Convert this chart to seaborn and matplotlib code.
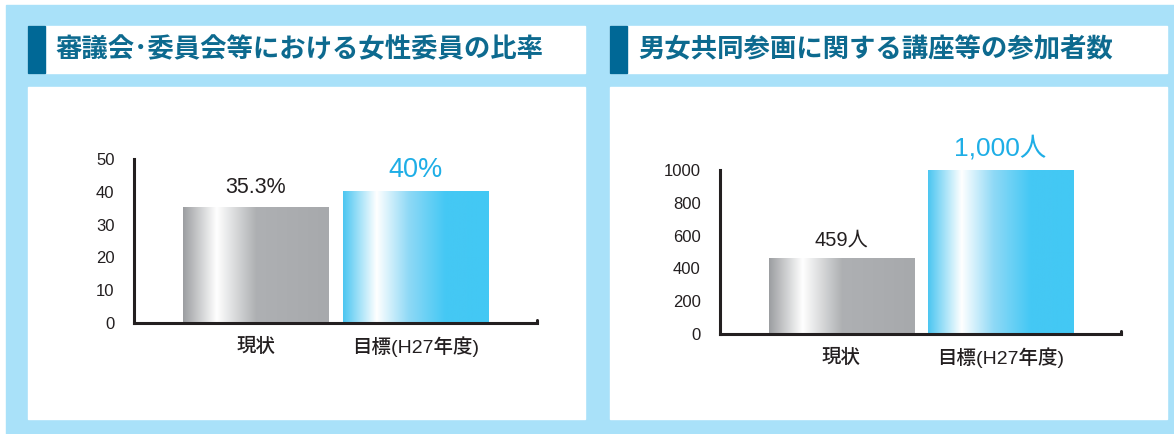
import numpy as np
import pandas as pd
import matplotlib
matplotlib.use("Agg")
import matplotlib.pyplot as plt
from matplotlib.colors import LinearSegmentedColormap
import seaborn as sns

# data
categories = ["現状", "目標(H27年度)"]
ratio_values = [35.3, 40]
ratio_labels = ["35.3%", "40%"]
count_values = [459, 1000]
count_labels = ["459人", "1,000人"]
ratio_ticks = [0, 10, 20, 30, 40, 50]
count_ticks = [0, 200, 400, 600, 800, 1000]
titles = ["審議会･委員会等における女性委員の比率", "男女共同参画に関する講座等の参加者数"]

sns.set_style("white")
plt.rcParams['font.family'] = ['Liberation Sans', 'Noto Sans CJK JP', 'DejaVu Sans']

W, H = 1174, 434
BG = "#a9e1f9"
DARK = "#231f20"
TITLE_C = "#0d6a8f"
ACCENT = "#006896"
CYAN_TXT = "#1eaee6"

fig = plt.figure(figsize=(W / 100, H / 100), dpi=100)
fig.patch.set_facecolor("white")


def px_rect(x0, y0, x1, y1, color):
    fig.patches.append(plt.Rectangle((x0 / W, 1 - y1 / H), (x1 - x0) / W, (y1 - y0) / H,
                                     transform=fig.transFigure, color=color, zorder=-5))


# background and panels
px_rect(6, 5, W, H, BG)
for x0, x1 in [(28, 585), (610, 1167)]:
    px_rect(x0, 26, x1, 73, "white")
    px_rect(x0, 26, x0 + 17, 73, ACCENT)
    px_rect(x0, 87, x1, 419, "white")

gray_cmap = LinearSegmentedColormap.from_list(
    "g", [(0, "#9c9ea1"), (0.23, "#ffffff"), (0.5, "#aeb0b3"), (1, "#a7a9ac")])
cyan_cmap = LinearSegmentedColormap.from_list(
    "c", [(0, "#4cc6f1"), (0.23, "#ffffff"), (0.45, "#8fd9f6"), (0.7, "#45c8f4"), (1, "#43c8f4")])


def draw_panel(rect, values, labels, ticks, title, title_x, label_sizes):
    ax = fig.add_axes(rect)
    ax.set_zorder(5)
    df = pd.DataFrame({"cat": categories, "val": values})
    sns.barplot(data=df, x="cat", y="val", ax=ax, width=0.91, color="#a7a9ac", saturation=1)
    ax.set_xlim(-0.76, 1.756)
    ax.set_ylim(0, ticks[-1])
    ax.patch.set_visible(False)
    grad = np.linspace(0, 1, 256).reshape(1, -1)
    for i, p in enumerate(ax.patches):
        x, w, h = p.get_x(), p.get_width(), p.get_height()
        p.set_alpha(0)
        ax.imshow(grad, cmap=[gray_cmap, cyan_cmap][i], extent=(x, x + w, 0, h),
                  aspect="auto", zorder=2)
        color = [DARK, CYAN_TXT][i]
        ax.text(x + w / 2, h + ticks[-1] * 0.055, labels[i], ha="center", va="bottom",
                fontsize=label_sizes[i], color=color, clip_on=False)
    ax.set_xlabel("")
    ax.set_ylabel("")
    ax.set_yticks(ticks)
    ax.set_xticks([])
    for s in ["top", "right"]:
        ax.spines[s].set_visible(False)
    for s in ["left", "bottom"]:
        ax.spines[s].set_linewidth(2.2)
        ax.spines[s].set_color(DARK)
    ax.tick_params(axis="y", direction="in", length=10, width=2, color=DARK,
                   labelsize=12, labelcolor=DARK, pad=14)
    # small upturn at the right end of the x axis
    ax.plot([1.0, 1.0], [0, 0.02], transform=ax.transAxes, color=DARK, lw=2.2, clip_on=False)
    for i, c in enumerate(categories):
        ax.text(i, -0.145, c, ha="center", va="center", fontsize=14, color=DARK,
                fontweight="medium", transform=ax.get_xaxis_transform(),
                family=['Liberation Sans', 'Noto Sans CJK JP'])
    fig.text(title_x / W, 1 - 50 / H, title, ha="left", va="center", fontsize=19,
             color=TITLE_C, fontweight="bold", family=['Noto Sans CJK JP', 'DejaVu Sans'])
    return ax


draw_panel([134 / W, (H - 323) / H, (537 - 134) / W, 164 / H],
           ratio_values, ratio_labels, ratio_ticks, titles[0], 55, [15.5, 19.5])
draw_panel([720 / W, (H - 334) / H, (1121 - 720) / W, 164 / H],
           count_values, count_labels, count_ticks, titles[1], 638, [14.5, 19])

fig.savefig("out.png", dpi=100, facecolor=fig.get_facecolor())
